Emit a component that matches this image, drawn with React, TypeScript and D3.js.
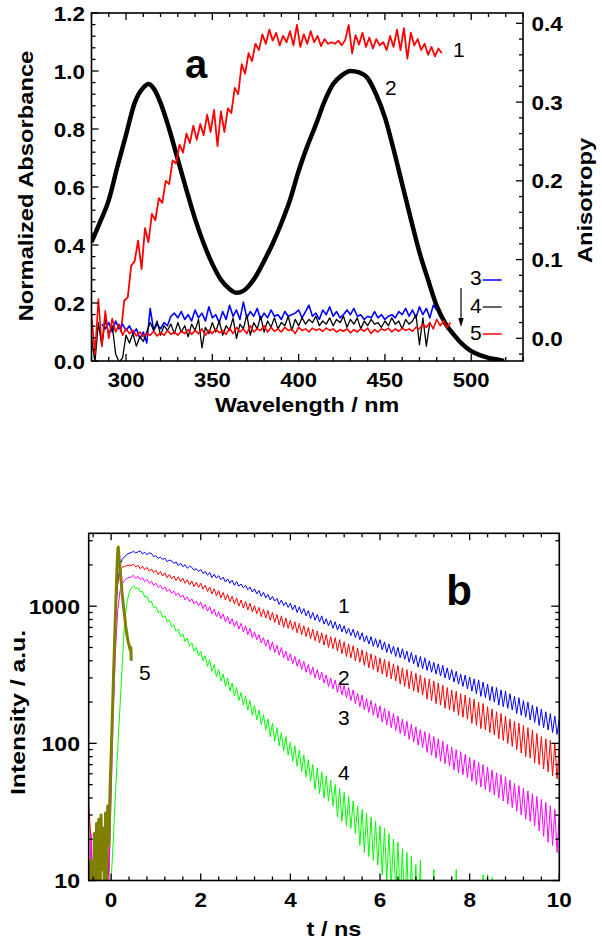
import React from "react";
import * as d3 from "d3";

// ---------- Panel a data ----------
const absWl = [280,285,290,295,300,305,310,313,316,320,325,330,335,340,345,350,355,360,364,368,372,376,380,385,390,395,400,405,410,415,420,425,430,435,440,445,450,455,460,465,470,475,480,485,490,495,500,505,510,515,519];
const absVal = [0.41,0.48,0.555,0.67,0.78,0.89,0.942,0.955,0.94,0.89,0.80,0.695,0.59,0.49,0.405,0.335,0.28,0.248,0.235,0.242,0.265,0.30,0.345,0.405,0.475,0.555,0.655,0.74,0.815,0.895,0.955,0.985,1.0,0.995,0.975,0.918,0.84,0.73,0.61,0.49,0.375,0.28,0.19,0.13,0.09,0.057,0.034,0.02,0.011,0.005,0.0];

const aniso1Wl = d3.range(297, 484, 2);
const aniso1 = [0.008,0.048,0.052,0.092,0.098,0.124,0.088,0.14,0.122,0.158,
  0.15,0.178,0.172,0.2,0.196,0.226,0.222,0.246,0.236,0.26,
  0.248,0.27,0.252,0.272,0.258,0.284,0.262,0.29,0.244,0.288,
  0.262,0.292,0.286,0.318,0.31,0.348,0.336,0.362,0.352,0.374,
  0.366,0.386,0.374,0.392,0.378,0.388,0.372,0.384,0.376,0.39,
  0.372,0.398,0.37,0.386,0.374,0.39,0.376,0.384,0.371,0.38,
  0.374,0.376,0.374,0.378,0.372,0.379,0.398,0.362,0.385,0.373,
  0.388,0.37,0.382,0.368,0.38,0.372,0.376,0.366,0.384,0.37,
  0.392,0.366,0.394,0.355,0.388,0.372,0.38,0.366,0.374,0.36,
  0.37,0.358,0.368,0.362];

const aniso3Wl = d3.range(286, 481, 2);
const aniso3 = [0.018,0.012,0.02,0.008,0.022,0.012,0.018,0.01,0.016,0.006,
  0.012,0.0,0.008,-0.006,0.038,0.01,0.018,0.012,0.02,0.016,
  0.028,0.032,0.026,0.034,0.024,0.03,0.022,0.036,0.026,0.032,
  0.022,0.04,0.026,0.03,0.02,0.034,0.024,0.042,0.028,0.036,
  0.024,0.046,0.026,0.034,0.028,0.038,0.024,0.032,0.026,0.036,
  0.028,0.03,0.024,0.034,0.028,0.03,0.032,0.036,0.026,0.034,
  0.042,0.028,0.032,0.024,0.036,0.03,0.04,0.028,0.034,0.026,
  0.03,0.036,0.03,0.038,0.028,0.03,0.024,0.028,0.026,0.034,
  0.026,0.03,0.024,0.028,0.03,0.026,0.034,0.03,0.038,0.028,
  0.036,0.026,0.04,0.03,0.038,0.026,0.042,0.036];

const aniso4Wl = d3.range(280, 477, 2);
const aniso4 = [0.0,-0.03,0.02,-0.01,0.024,0.005,0.016,-0.02,-0.03,-0.025,
  0.004,-0.006,0.006,-0.01,0.002,-0.004,0.008,0.02,0.01,0.022,
  0.004,0.016,0.01,0.018,0.006,0.02,0.008,0.016,0.002,0.018,
  0.01,0.024,-0.012,0.014,0.006,0.02,0.008,0.022,0.004,0.016,
  0.01,0.026,0.0,0.018,0.012,0.03,0.004,0.02,0.012,0.028,
  0.008,0.022,0.014,0.026,0.012,0.02,0.016,0.028,0.01,0.024,
  0.016,0.026,0.018,0.024,0.02,0.028,0.016,0.022,0.018,0.026,
  0.016,0.024,0.02,0.028,0.014,0.024,0.018,0.026,0.012,0.022,
  0.016,0.024,0.018,0.02,0.014,0.022,0.016,0.026,0.018,0.022,
  0.012,0.024,0.018,0.022,0.03,-0.008,0.026,-0.01,0.02];

const aniso5Wl = d3.range(280, 489, 2);
const aniso5 = [0.03,-0.02,0.05,-0.01,0.035,0.0,0.025,0.008,0.018,0.004,
  0.012,0.006,0.01,0.003,0.008,0.002,0.006,0.004,0.009,0.003,
  0.007,0.004,0.01,0.005,0.008,0.004,0.009,0.006,0.011,0.005,
  0.01,0.006,0.012,0.004,0.01,0.006,0.012,0.007,0.01,0.005,
  0.013,0.006,0.014,0.008,0.012,0.006,0.016,0.008,0.012,0.01,
  0.016,0.008,0.014,0.009,0.012,0.008,0.014,0.01,0.012,0.006,
  0.014,0.01,0.012,0.008,0.013,0.01,0.012,0.009,0.013,0.01,
  0.012,0.008,0.011,0.009,0.012,0.007,0.011,0.008,0.012,0.009,
  0.013,0.006,0.011,0.008,0.012,0.01,0.013,0.008,0.012,0.009,
  0.013,0.01,0.012,0.009,0.014,0.012,0.018,0.014,0.02,0.012,
  0.024,0.016,0.022,0.014,0.02];

// ---------- Panel b data (t = -0.5 ... 10 ns, 0.05 ns channels) ----------
const decayT = d3.range(211).map((i) => -0.5 + i * 0.05);
const decay1 = [6,4,3,9,8,5,4,7,9,12,60,300,900,1500,2000,2200,2300,2380,2430,2460,
  2510,2440,2490,2530,2410,2470,2380,2450,2420,2300,
  2330,2230,2280,2190,2240,2110,2170,2140,2050,2100,
  1980,2060,1940,2010,1890,1960,1920,1830,1880,1790,
  1850,1730,1790,1680,1760,1620,1710,1600,1670,1560,
  1630,1500,1580,1470,1550,1420,1510,1400,1450,1360,
  1420,1320,1380,1270,1340,1230,1300,1180,1260,1150,
  1220,1110,1180,1090,1140,1030,1110,1010,1070,980,
  1050,940,1020,900,990,880,960,850,930,810,
  900,790,870,770,850,740,810,720,790,690,
  770,670,740,650,720,630,690,610,680,590,
  660,570,640,550,610,530,600,510,580,500,
  570,480,550,460,530,450,510,430,500,420,
  490,410,470,390,460,380,440,360,430,350,
  420,340,400,330,390,320,380,310,370,300,
  355,290,345,280,335,270,320,260,315,250,
  305,240,295,230,290,220,280,215,270,205,
  260,200,255,190,245,185,240,180,230,175,
  220,165,215,160,205,155,200,148,190,142,
  185,135,178,130,170,125,165,120,158,116,
  150];
const decay2 = [36,20,6,4,8,3,9,5,7,14,70,350,1000,1500,1850,1920,1950,1975,1990,1985,
  2020,1930,1990,1870,1960,1840,1920,1800,1870,1750,
  1830,1700,1790,1660,1750,1610,1700,1580,1660,1540,
  1640,1510,1600,1470,1560,1430,1530,1390,1490,1370,
  1470,1330,1420,1280,1380,1230,1340,1190,1300,1150,
  1260,1110,1220,1080,1180,1040,1150,1000,1110,970,
  1080,940,1050,910,1010,880,980,840,950,820,
  930,790,900,760,870,730,850,700,820,690,
  790,670,770,640,750,620,720,600,700,580,
  680,560,660,540,640,520,620,500,600,490,
  590,470,570,450,550,430,530,420,515,400,
  495,390,480,370,465,355,450,345,435,330,
  420,320,410,305,395,295,380,285,370,270,
  355,260,345,250,335,240,325,235,315,225,
  300,210,295,205,285,195,275,190,265,180,
  255,175,245,170,240,160,230,155,225,150,
  215,140,210,135,200,128,195,125,185,120,
  178,115,170,108,165,105,158,100,150,95,
  145,90,140,85,135,80,130,78,125,72,
  118,70,112,65,108,62,105,58,100,55,
  95];
const decay3 = [5,22,8,3,6,4,7,3,8,10,40,180,500,950,1300,1450,1550,1590,1620,1630,
  1680,1590,1650,1560,1610,1510,1570,1470,1520,1420,
  1470,1370,1420,1330,1380,1280,1330,1240,1290,1200,
  1250,1160,1210,1110,1170,1080,1130,1040,1090,1010,
  1070,960,1030,920,990,880,950,840,910,810,
  880,770,840,740,810,710,780,680,750,650,
  720,620,690,590,650,570,620,540,590,510,
  570,480,550,460,520,440,500,420,470,400,
  450,380,430,365,410,345,395,330,375,315,
  360,300,345,290,330,275,315,260,300,250,
  290,235,280,225,265,215,255,205,245,195,
  232,185,225,175,212,168,205,160,195,153,
  188,143,180,136,172,130,165,124,158,118,
  150,113,145,107,138,102,132,97,126,93,
  122,86,118,82,112,78,108,74,104,71,
  98,68,94,64,90,61,87,59,83,56,
  79,53,76,50,73,48,70,46,67,44,
  64,42,61,40,59,38,57,36,54,34,
  51,32,49,30,47,28,45,27,43,25,
  41,23,39,21,37,19,35,18,33,16,
  30];
const decay4 = [3,2,4,2,5,3,2,4,3,5,10,20,45,95,190,380,760,1050,1250,1350,
  1410,1340,1370,1270,1280,1170,1180,1070,1080,980,
  990,900,920,830,850,770,790,710,730,655,
  680,600,630,550,585,510,540,470,500,435,
  470,400,435,365,405,335,375,305,345,285,
  320,260,300,240,275,222,255,205,235,190,
  220,175,205,160,190,148,175,137,162,125,
  150,112,140,104,130,96,120,88,112,82,
  102,74,96,68,89,62,82,57,76,53,
  70,46,66,43,62,40,58,38,54,35,
  50,29,47,27,44,25,41,24,38,22,
  35,18,33,16,31,15,29,14,27,13,
  25,11,24,10,22,9,20,8,19,7,
  17,6,16,5,15,5,13,4,14,4,
  8,3,9,3,12,2,7,3,6,2,
  8,2,5,1,12,2,6,1,4,1,
  5,1,4,1,6,1,11,2,11,1,
  10.5,1,4,1,3,1,5,1,3,1,
  3,1,2,1,4,1,2,1,3,1,
  2,1,3,1,2,1,2,1,2,1,
  1];
const irfT = [-0.5,-0.475,-0.45,-0.425,-0.4,-0.375,-0.35,-0.325,-0.3,-0.275,-0.25,-0.225,-0.2,-0.175,-0.15,-0.125,-0.1,-0.075,-0.05,-0.025,0,0.025,0.05,0.075,0.1,0.125,0.15,0.16,0.175,0.2,0.225,0.25,0.275,0.3,0.325,0.35,0.375,0.4,0.425,0.44,0.45];
const irfI = [8,5,14,6,3,22,7,26,9,28,5,30,12,24,8,31,10,35,18,45,80,150,280,520,950,1700,2600,2700,2300,1900,1500,1200,1000,860,720,630,560,520,480,500,400];

// ---------- Ticks ----------
const absTicks = [0, 0.2, 0.4, 0.6, 0.8, 1.0, 1.2];
const anisoTicks = [0, 0.1, 0.2, 0.3, 0.4];
const wlTicks = [300, 350, 400, 450, 500];
const tTicks = [0, 2, 4, 6, 8, 10];
const intTicks = [10, 100, 1000];

const FONT = "'Liberation Sans', Arial, Helvetica, sans-serif";

function Txt({ x, y, size = 21, sx = 1, rot = 0, anchor = "middle", weight = "bold", children }: any) {
  return (
    <text
      transform={`translate(${x},${y}) rotate(${rot}) scale(${sx},1)`}
      fontSize={size}
      fontWeight={weight}
      textAnchor={anchor}
      fontFamily={FONT}
      fill="#000"
    >
      {children}
    </text>
  );
}

export default function App() {
  // Panel a
  const A = { l: 91.5, r: 523, t: 13, b: 361 };
  const xa = d3.scaleLinear().domain([280, 530]).range([A.l, A.r]);
  const yL = d3.scaleLinear().domain([0, 1.2]).range([A.b, A.t]);
  const yR = d3.scaleLinear().domain([-0.0288, 0.4131]).range([A.b, A.t]);

  const absLine = d3.line<number>().x((_, i) => xa(absWl[i])).y((d) => yL(d)).curve(d3.curveMonotoneX);
  const mk = (wl: number[]) => d3.line<number>().x((_, i) => xa(wl[i])).y((d) => yR(d));

  // Panel b
  const B = { l: 88.7, r: 559.3, t: 533.3, b: 880.5 };
  const xb = d3.scaleLinear().domain([-0.5, 10]).range([B.l, B.r]);
  const yb = d3.scaleLog().domain([10, 3400]).range([B.b, B.t]);
  const dl = d3.line<number>().x((_, i) => xb(decayT[i])).y((d) => yb(Math.max(d, 0.5)));
  const irfLine = d3.line<number>().x((_, i) => xb(irfT[i])).y((d) => yb(d));

  const fmt1 = d3.format(".1f");

  const absMinor = d3.range(0, 1.2001, 0.04).filter((v) => Math.abs(v / 0.2 - Math.round(v / 0.2)) > 1e-6);
  const anisoMinor = d3.range(-0.02, 0.4101, 0.02).filter((v) => Math.abs(v / 0.1 - Math.round(v / 0.1)) > 1e-6);
  const wlMinor = d3.range(280, 531, 10).filter((v) => v % 50 !== 0);
  const tMinor = d3.range(-0.4, 10.001, 0.4).filter((v) => Math.abs(v / 2 - Math.round(v / 2)) > 1e-6);
  const intMinor: number[] = [];
  [10, 100, 1000].forEach((dec) => {
    for (let k = 2; k <= 9; k++) if (dec * k <= 3400) intMinor.push(dec * k);
  });

  const tk = { stroke: "#000", strokeWidth: 1.3 };
  const MJ = 7, MN = 4;

  return (
    <svg width={602} height={944} style={{ position: "absolute", left: 0, top: 0, background: "#fff" }}>
      <defs>
        <clipPath id="clipA">
          <rect x={A.l} y={A.t} width={A.r - A.l} height={A.b - A.t} />
        </clipPath>
        <clipPath id="clipB">
          <rect x={B.l} y={B.t} width={B.r - B.l} height={B.b - B.t} />
        </clipPath>
      </defs>
      <rect x={0} y={0} width={602} height={944} fill="#fff" />

      {/* ================= Panel a ================= */}
      <g clipPath="url(#clipA)" fill="none">
        <path d={absLine(absVal) || ""} stroke="#000" strokeWidth={4.5} strokeLinejoin="round" />
        <path d={mk(aniso1Wl)(aniso1) || ""} stroke="#ff0000" strokeWidth={1.8} strokeLinejoin="round" />
        <path d={mk(aniso3Wl)(aniso3) || ""} stroke="#0000ff" strokeWidth={1.6} strokeLinejoin="round" />
        <path d={mk(aniso4Wl)(aniso4) || ""} stroke="#000" strokeWidth={1.3} strokeLinejoin="round" />
        <path d={mk(aniso5Wl)(aniso5) || ""} stroke="#ff0000" strokeWidth={1.6} strokeLinejoin="round" />
      </g>

      {absTicks.map((v) => (
        <line key={"al" + v} x1={A.l} x2={A.l + MJ} y1={yL(v)} y2={yL(v)} {...tk} />
      ))}
      {absMinor.map((v) => (
        <line key={"alm" + v} x1={A.l} x2={A.l + MN} y1={yL(v)} y2={yL(v)} {...tk} />
      ))}
      {anisoTicks.map((v) => (
        <line key={"ar" + v} x1={A.r} x2={A.r - MJ} y1={yR(v)} y2={yR(v)} {...tk} />
      ))}
      {anisoMinor.map((v) => (
        <line key={"arm" + v} x1={A.r} x2={A.r - MN} y1={yR(v)} y2={yR(v)} {...tk} />
      ))}
      {wlTicks.map((v) => (
        <g key={"aw" + v}>
          <line x1={xa(v)} x2={xa(v)} y1={A.b} y2={A.b - MJ} {...tk} />
          <line x1={xa(v)} x2={xa(v)} y1={A.t} y2={A.t + MJ} {...tk} />
        </g>
      ))}
      {wlMinor.map((v) => (
        <g key={"awm" + v}>
          <line x1={xa(v)} x2={xa(v)} y1={A.b} y2={A.b - MN} {...tk} />
          <line x1={xa(v)} x2={xa(v)} y1={A.t} y2={A.t + MN} {...tk} />
        </g>
      ))}
      <rect x={A.l} y={A.t} width={A.r - A.l} height={A.b - A.t} fill="none" stroke="#000" strokeWidth={1.6} />

      {absTicks.map((v) => (
        <Txt key={"alt" + v} x={85} y={yL(v) + 7.5} anchor="end" sx={1.07}>{fmt1(v)}</Txt>
      ))}
      {anisoTicks.map((v) => (
        <Txt key={"art" + v} x={531.5} y={yR(v) + 7.5} anchor="start" sx={1.07}>{fmt1(v)}</Txt>
      ))}
      {wlTicks.map((v) => (
        <Txt key={"awt" + v} x={xa(v)} y={386.5} sx={1.05}>{v}</Txt>
      ))}
      <Txt x={307} y={412} sx={1.11}>Wavelength / nm</Txt>
      <Txt x={33} y={186} rot={-90} sx={1.13}>Normalized Absorbance</Txt>
      <Txt x={592} y={200.5} rot={-90} sx={1.13}>Anisotropy</Txt>
      <Txt x={196} y={78.3} size={40}>a</Txt>

      <Txt x={453} y={56.7} anchor="start" weight="normal">1</Txt>
      <Txt x={385} y={95} anchor="start" weight="normal">2</Txt>
      <Txt x={470} y={285} anchor="start" weight="normal">3</Txt>
      <Txt x={470} y={312.5} anchor="start" weight="normal">4</Txt>
      <Txt x={470} y={340} anchor="start" weight="normal">5</Txt>
      <line x1={482.7} x2={501.7} y1={280} y2={280} stroke="#0000ff" strokeWidth={1.5} />
      <line x1={482.7} x2={501.7} y1={307} y2={307} stroke="#000" strokeWidth={1.2} />
      <line x1={482.7} x2={501.7} y1={334} y2={334} stroke="#ff0000" strokeWidth={1.5} />
      <line x1={461} x2={461} y1={288} y2={320} stroke="#000" strokeWidth={1.2} />
      <path d="M458.3,318 L463.7,318 L461,327 Z" fill="#000" />

      {/* ================= Panel b ================= */}
      <g clipPath="url(#clipB)" fill="none">
        <path d={dl(decay1) || ""} stroke="#0000ff" strokeWidth={1} />
        <path d={dl(decay2) || ""} stroke="#ff0000" strokeWidth={1} />
        <path d={dl(decay3) || ""} stroke="#ff00ff" strokeWidth={1} />
        <path d={dl(decay4) || ""} stroke="#00ff00" strokeWidth={1} />
        <path d={irfLine(irfI) || ""} stroke="#808000" strokeWidth={3} strokeLinejoin="round" />
      </g>

      {intTicks.map((v) => (
        <g key={"bi" + v}>
          <line x1={B.l} x2={B.l + MJ + 1} y1={yb(v)} y2={yb(v)} {...tk} />
          <line x1={B.r} x2={B.r - MJ - 1} y1={yb(v)} y2={yb(v)} {...tk} />
        </g>
      ))}
      {intMinor.map((v) => (
        <g key={"bim" + v}>
          <line x1={B.l} x2={B.l + MN} y1={yb(v)} y2={yb(v)} {...tk} />
          <line x1={B.r} x2={B.r - MN} y1={yb(v)} y2={yb(v)} {...tk} />
        </g>
      ))}
      {tTicks.map((v) => (
        <g key={"bt" + v}>
          <line x1={xb(v)} x2={xb(v)} y1={B.b} y2={B.b - MJ} {...tk} />
          <line x1={xb(v)} x2={xb(v)} y1={B.t} y2={B.t + MJ} {...tk} />
        </g>
      ))}
      {tMinor.map((v) => (
        <g key={"btm" + v}>
          <line x1={xb(v)} x2={xb(v)} y1={B.b} y2={B.b - MN} {...tk} />
          <line x1={xb(v)} x2={xb(v)} y1={B.t} y2={B.t + MN} {...tk} />
        </g>
      ))}
      <rect x={B.l} y={B.t} width={B.r - B.l} height={B.b - B.t} fill="none" stroke="#000" strokeWidth={1.6} />

      {intTicks.map((v) => (
        <Txt key={"bil" + v} x={80} y={yb(v) + 7.5} anchor="end" sx={1.1}>{v}</Txt>
      ))}
      {tTicks.map((v) => (
        <Txt key={"btl" + v} x={xb(v)} y={906.5} sx={1.07}>{v}</Txt>
      ))}
      <Txt x={334} y={936} sx={1.12}>t / ns</Txt>
      <Txt x={25} y={712.5} rot={-90} sx={1.18}>Intensity / a.u.</Txt>
      <Txt x={459} y={605} size={42}>b</Txt>

      <Txt x={338} y={613} anchor="start" weight="normal">1</Txt>
      <Txt x={338} y={685} anchor="start" weight="normal">2</Txt>
      <Txt x={338} y={725} anchor="start" weight="normal">3</Txt>
      <Txt x={338} y={780} anchor="start" weight="normal">4</Txt>
      <Txt x={139} y={680} anchor="start" weight="normal">5</Txt>
    </svg>
  );
}
